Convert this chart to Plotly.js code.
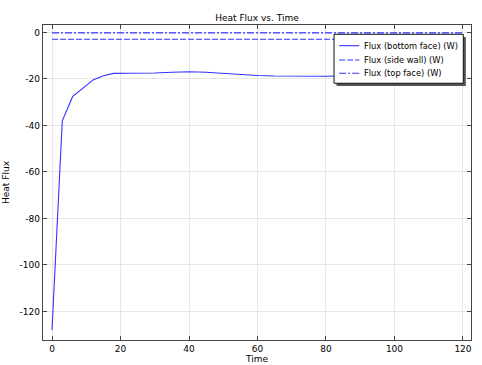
<!DOCTYPE html>
<html>
<head>
<meta charset="utf-8">
<script src="https://cdn.plot.ly/plotly-3.0.1.min.js"></script>
<style>html,body{margin:0;padding:0;background:#fff;}#chart{width:482px;height:365px;}</style>
</head>
<body>
<div id="chart"></div>
<script>
const timeBottom = [0, 3, 6, 9.5, 12, 15, 18, 22, 26, 30, 35, 40, 45, 50, 55, 60, 65, 70, 75, 80, 90, 100, 110, 120];
const fluxBottom = [-128, -38, -27.6, -23.3, -20.4, -18.6, -17.6, -17.5, -17.6, -17.4, -17.1, -16.9, -17.1, -17.6, -18.1, -18.5, -18.7, -18.8, -18.8, -18.8, -18.5, -17.8, -16.6, -15.2];
const timeSide = [0, 120];
const fluxSide = [-2.9, -2.9];
const timeTop = [0, 120];
const fluxTop = [-0.15, -0.15];
const seriesNames = ['Flux (bottom face) (W)', 'Flux (side wall) (W)', 'Flux (top face) (W)'];
const xTicks = [0, 20, 40, 60, 80, 100, 120];
const yTicks = [0, -20, -40, -60, -80, -100, -120];
const yTickText = ['0', '-20', '-40', '-60', '-80', '-100', '-120'];

const blue = 'rgb(50,50,255)';
const dashes = ['solid', '6px,2px', '7px,2px,2px,2px'];
const font = {family: 'DejaVu Sans, sans-serif', size: 9, color: '#000'};
const legendFont = {family: 'DejaVu Sans, sans-serif', size: 8.3, color: '#000'};

const traces = [
  {x: timeBottom, y: fluxBottom, name: seriesNames[0], mode: 'lines', line: {color: blue, width: 1.1, dash: dashes[0]}},
  {x: timeSide, y: fluxSide, name: seriesNames[1], mode: 'lines', line: {color: blue, width: 1.1, dash: dashes[1]}},
  {x: timeTop, y: fluxTop, name: seriesNames[2], mode: 'lines', line: {color: blue, width: 1.1, dash: dashes[2]}}
];

const axisCommon = {
  showline: true, linecolor: '#444', linewidth: 1.3, mirror: 'allticks',
  ticks: 'inside', ticklen: 4, tickcolor: '#444',
  showgrid: true, gridcolor: '#e6e6e6', gridwidth: 1, zeroline: false,
  tickfont: font
};

// custom legend box (paper coordinates)
const legRows = [0.9343, 0.8889, 0.8467];
const shapes = [
  {type: 'rect', xref: 'paper', yref: 'paper', x0: 0.6857, x1: 0.988, y0: 0.806, y1: 0.962, fillcolor: '#555', line: {width: 0}, layer: 'above'},
  {type: 'rect', xref: 'paper', yref: 'paper', x0: 0.680, x1: 0.982, y0: 0.815, y1: 0.9705, fillcolor: '#fff', line: {color: '#111', width: 1}, layer: 'above'}
];
const annotations = [];
seriesNames.forEach((name, i) => {
  shapes.push({type: 'line', xref: 'paper', yref: 'paper', x0: 0.692, x1: 0.739, y0: legRows[i], y1: legRows[i], line: {color: blue, width: 1.1, dash: dashes[i]}, layer: 'above'});
  annotations.push({xref: 'paper', yref: 'paper', x: 0.746, y: legRows[i], xanchor: 'left', yanchor: 'middle', text: name, showarrow: false, font: legendFont});
});

const layout = {
  width: 482, height: 365,
  margin: {l: 43, r: 11, t: 25, b: 25, autoexpand: false},
  paper_bgcolor: '#fff', plot_bgcolor: '#fff',
  font: font,
  title: {text: 'Heat Flux vs. Time', font: font, x: 0.5, xref: 'paper', y: 1 - 18/365, yref: 'container', yanchor: 'middle'},
  xaxis: Object.assign({}, axisCommon, {range: [-2.63, 122.34], tickvals: xTicks, title: {text: 'Time', font: font, standoff: 0}, automargin: false}),
  yaxis: Object.assign({}, axisCommon, {range: [-132.3, 3.23], tickvals: yTicks, ticktext: yTickText, title: {text: 'Heat Flux', font: font, standoff: 8}, automargin: false}),
  showlegend: false,
  shapes: shapes,
  annotations: annotations
};

Plotly.newPlot('chart', traces, layout, {displayModeBar: false, staticPlot: true});
</script>
</body>
</html>
